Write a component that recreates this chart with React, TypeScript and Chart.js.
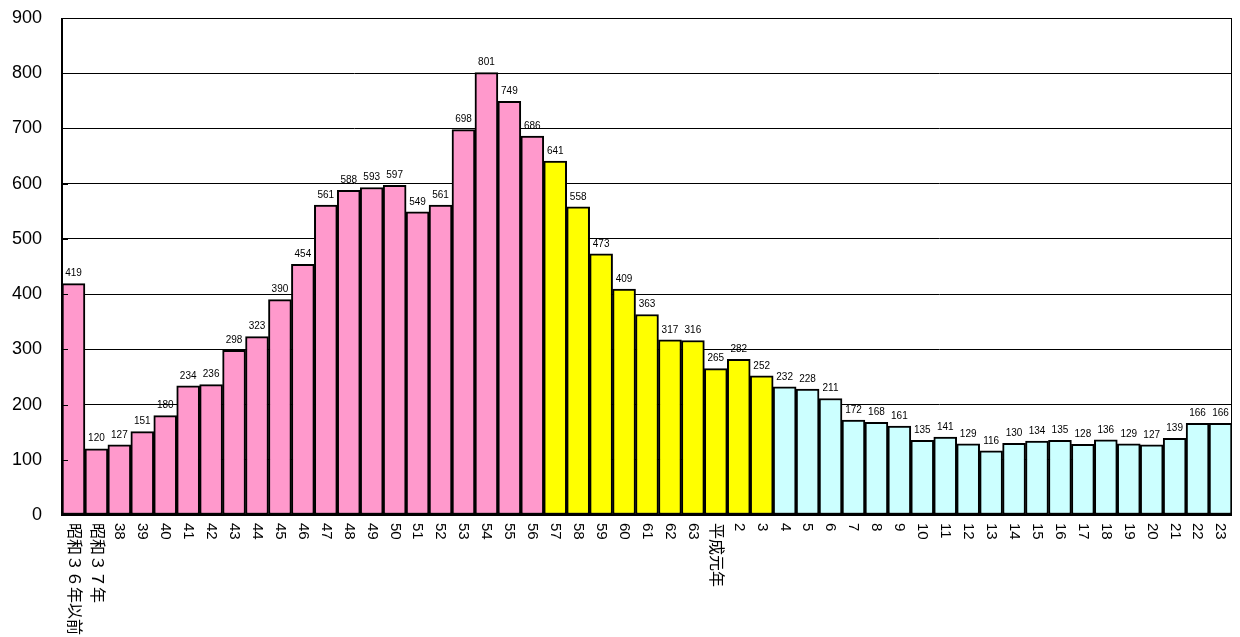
import React, { useEffect, useRef } from "react";
import { Chart, registerables } from "chart.js";

Chart.register(...registerables);

const categories = [
  "昭和３６年以前", "昭和３７年", "38", "39", "40", "41", "42", "43", "44", "45", "46", "47", "48", "49", "50",
  "51", "52", "53", "54", "55", "56", "57", "58", "59", "60", "61", "62", "63", "平成元年", "2", "3",
  "4", "5", "6", "7", "8", "9", "10", "11", "12", "13", "14", "15", "16", "17", "18", "19", "20", "21", "22", "23",
];

const values = [
  419, 120, 127, 151, 180, 234, 236, 298, 323, 390, 454, 561, 588, 593, 597, 549, 561, 698, 801, 749, 686,
  641, 558, 473, 409, 363, 317, 316, 265, 282, 252,
  232, 228, 211, 172, 168, 161, 135, 141, 129, 116, 130, 134, 135, 128, 136, 129, 127, 139, 166, 166,
];

const pinkCount = 21;
const yellowCount = 10;
const yTicks = [0, 100, 200, 300, 400, 500, 600, 700, 800, 900];

const FONT = "'Liberation Sans', Arial, 'Noto Sans CJK JP', sans-serif";

const colors = values.map((_, i) =>
  i < pinkCount ? "#FF99CC" : i < pinkCount + yellowCount ? "#FFFF00" : "#CCFFFF"
);

const overlay = {
  id: "overlay",
  afterDatasetsDraw(chart: any) {
    const ctx = chart.ctx;
    const area = chart.chartArea;
    const meta = chart.getDatasetMeta(0);
    const xs = chart.scales.x;
    ctx.save();
    ctx.fillStyle = "#000";
    ctx.font = `10px ${FONT}`;
    ctx.textAlign = "center";
    ctx.textBaseline = "bottom";
    meta.data.forEach((bar: any, i: number) => {
      ctx.fillText(String(values[i]), bar.x, bar.y - 5);
    });
    ctx.strokeStyle = "#000";
    ctx.lineWidth = 1;
    ctx.strokeRect(area.left + 0.5, area.top + 0.5, area.right - area.left - 1, area.bottom - area.top);
    ctx.lineWidth = 2;
    ctx.beginPath();
    ctx.moveTo(area.left, area.top);
    ctx.lineTo(area.left, area.bottom);
    ctx.lineTo(area.right, area.bottom);
    ctx.stroke();
    ctx.lineWidth = 1;
    const ys = chart.scales.y;
    yTicks.forEach((t) => {
      const y = Math.round(ys.getPixelForValue(t)) + 0.5;
      ctx.beginPath();
      ctx.moveTo(area.left, y);
      ctx.lineTo(area.left + 6, y);
      ctx.stroke();
    });
    ctx.textAlign = "left";
    ctx.textBaseline = "middle";
    categories.forEach((c, i) => {
      const x = xs.getPixelForValue(i);
      ctx.font = `${c.length > 2 ? 16 : 15}px ${FONT}`;
      ctx.save();
      ctx.translate(x, area.bottom + 8);
      ctx.rotate(Math.PI / 2);
      ctx.fillText(c, 0, 0);
      ctx.restore();
    });
    ctx.restore();
  },
};

export default function App() {
  const ref = useRef<HTMLCanvasElement | null>(null);
  useEffect(() => {
    if (!ref.current) return;
    const chart = new Chart(ref.current, {
      type: "bar",
      data: {
        labels: categories,
        datasets: [
          {
            data: values,
            backgroundColor: colors,
            borderColor: "#000",
            borderWidth: 2,
            borderSkipped: false,
            categoryPercentage: 1,
            barPercentage: 1,
          },
        ],
      },
      options: {
        animation: false,
        responsive: false,
        maintainAspectRatio: false,
        layout: { padding: { top: 18, right: 8, left: 0, bottom: 0 } },
        plugins: { legend: { display: false }, tooltip: { enabled: false } },
        scales: {
          x: {
            grid: { display: false, drawTicks: false },
            border: { display: false },
            ticks: { display: true, color: "rgba(0,0,0,0)", font: { size: 1 } },
            afterFit(scale: any) {
              scale.height = 122;
              scale.paddingLeft = 0;
              scale.paddingRight = 0;
            },
          },
          y: {
            min: 0,
            max: 900,
            grid: { color: "#000", lineWidth: 1, drawTicks: false },
            border: { display: false },
            ticks: {
              stepSize: 100,
              color: "#000",
              padding: 20,
              font: { size: 18, family: FONT },
            },
            afterFit(scale: any) {
              scale.width = 62;
              scale.paddingTop = 0;
              scale.paddingBottom = 0;
            },
          },
        },
      },
      plugins: [overlay],
    });
    return () => chart.destroy();
  }, []);
  return (
    <div style={{ position: "fixed", left: 0, top: 0, width: 1240, height: 637, background: "#fff" }}>
      <canvas ref={ref} width={1240} height={637} style={{ width: 1240, height: 637 }} />
    </div>
  );
}
